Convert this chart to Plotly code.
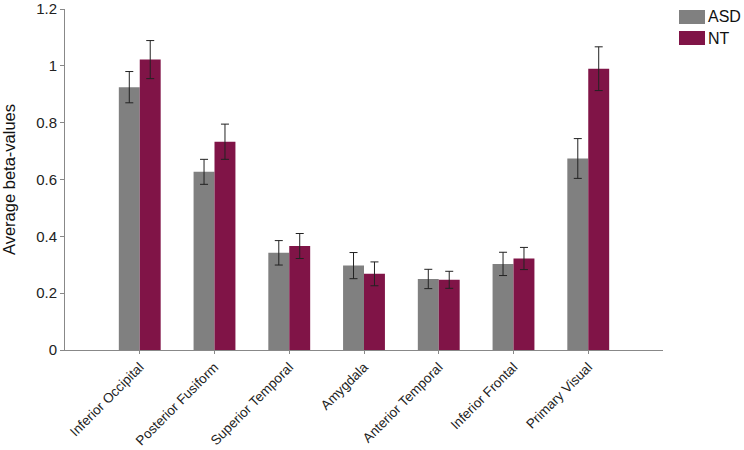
import plotly.graph_objects as go

regions = ["Inferior Occipital", "Posterior Fusiform", "Superior Temporal", "Amygdala",
           "Anterior Temporal", "Inferior Frontal", "Primary Visual"]
asd_mean = [0.925, 0.627, 0.342, 0.297, 0.250, 0.303, 0.674]
asd_err = [0.055, 0.044, 0.043, 0.046, 0.034, 0.041, 0.070]
nt_mean = [1.022, 0.733, 0.366, 0.268, 0.247, 0.322, 0.990]
nt_err = [0.067, 0.062, 0.044, 0.042, 0.030, 0.039, 0.077]
y_ticks = [0, 0.2, 0.4, 0.6, 0.8, 1.0, 1.2]
y_tick_text = ["0", "0.2", "0.4", "0.6", "0.8", "1", "1.2"]
series_names = ["ASD", "NT"]
series_colors = ["#808080", "#801447"]

FONT = "Liberation Sans, Arial, sans-serif"
err_style = dict(type="data", visible=True, color="#222222", thickness=1, width=4)

W, H = 744, 450
L, R, T, B = 65, 81, 9, 100

fig = go.Figure()
for name, color, mean, err in zip(series_names, series_colors, [asd_mean, nt_mean], [asd_err, nt_err]):
    fig.add_trace(go.Bar(name=name, x=list(range(len(regions))), y=mean,
                         marker=dict(color=color, line=dict(width=0)),
                         error_y=dict(array=err, **err_style), showlegend=False))

# manual legend (outside plot area, paper coordinates)
pw, ph = W - L - R, H - T - B
def px_x(x):
    return (x - L) / pw
def px_y(y):
    return (H - B - y) / ph

shapes, annotations = [], []
for i, (name, color) in enumerate(zip(series_names, series_colors)):
    y0 = 10 + i * 21
    shapes.append(dict(type="rect", xref="paper", yref="paper",
                       x0=px_x(679), x1=px_x(705), y0=px_y(y0 + 14), y1=px_y(y0),
                       fillcolor=color, line=dict(width=0)))
    annotations.append(dict(text=name, xref="paper", yref="paper", x=px_x(706),
                            y=px_y(y0 + 7), xanchor="left", yanchor="middle",
                            showarrow=False, font=dict(size=16, color="#111111")))

fig.update_layout(
    width=W, height=H,
    margin=dict(l=L, r=R, t=T, b=B, autoexpand=False),
    paper_bgcolor="white", plot_bgcolor="white",
    barmode="group", bargap=0.44, bargroupgap=0,
    font=dict(family=FONT, size=14, color="#222222"),
    showlegend=False,
    shapes=shapes, annotations=annotations,
    xaxis=dict(range=[-1, 7], tickmode="array", tickvals=list(range(len(regions))),
               ticktext=regions, tickangle=-45, showline=True, linecolor="#888888",
               linewidth=1, ticks="outside", ticklen=3, tickcolor="#888888",
               showgrid=False, zeroline=False, automargin=False,
               ticklabeloverflow="allow",
               tickfont=dict(size=13.5, color="#222222")),
    yaxis=dict(range=[0, 1.2001], tickmode="array", tickvals=y_ticks, ticktext=y_tick_text,
               showline=True, linecolor="#888888", linewidth=1, ticks="outside",
               ticklen=4, tickcolor="#888888", showgrid=False, zeroline=False,
               automargin=False, ticklabeloverflow="allow",
               tickfont=dict(size=15, color="#222222"),
               title=dict(text="Average beta-values", font=dict(size=16.5, color="#111111"),
                          standoff=18)),
)

fig.write_html("out.html", config={"displayModeBar": False},
               post_script="document.body.style.margin='0px';")
